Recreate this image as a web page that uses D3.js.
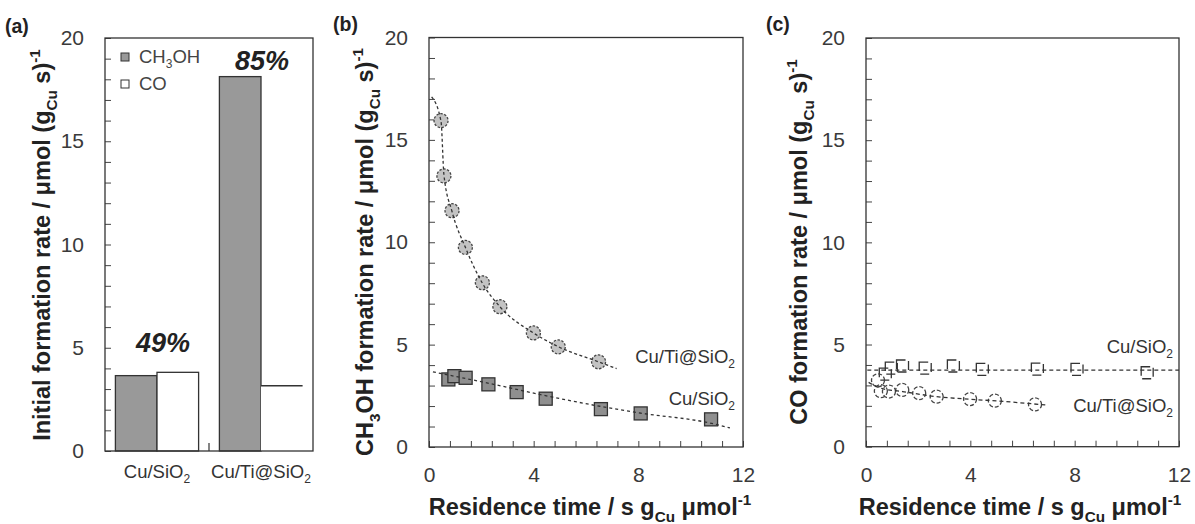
<!DOCTYPE html>
<html><head><meta charset="utf-8">
<script src="https://cdn.jsdelivr.net/npm/d3@7"></script>
<style>
body{margin:0;background:#fff}
svg{display:block}
text{font-family:"Liberation Sans",Arial,Helvetica,sans-serif}
</style>
</head><body>
<svg id="chart" width="1195" height="524"></svg>
<script>
// ---------- DATA ----------
const barCategories = ["Cu/SiO_{2}", "Cu/Ti@SiO_{2}"];
const barSeries = ["CH_{3}OH", "CO"];
const barMeOH = [3.65, 18.13];
const barCO = [3.81, 3.16];
const selectivityLabels = ["49%", "85%"];

const yTickLabels = [0, 5, 10, 15, 20];
const xTickLabels = [0, 4, 8, 12];

// (b) CH3OH formation rate vs residence time
const tiTime = [0.46, 0.57, 0.88, 1.39, 2.04, 2.71, 3.99, 4.94, 6.48];
const tiMeOH = [15.94, 13.24, 11.54, 9.75, 8.02, 6.85, 5.57, 4.89, 4.16];
const siTime = [0.74, 0.97, 1.40, 2.27, 3.35, 4.46, 6.57, 8.09, 10.78];
const siMeOH = [3.30, 3.46, 3.38, 3.06, 2.68, 2.36, 1.85, 1.64, 1.35];
// trend curves
const tiMeOHFitTime = [0.10, 0.46, 0.57, 0.88, 1.39, 2.04, 2.71, 3.99, 4.94, 6.48, 7.17];
const tiMeOHFitRate = [17.1, 15.9, 13.3, 11.5, 9.75, 8.0, 6.85, 5.57, 4.9, 4.16, 3.83];
const siMeOHFitTime = [0.15, 1.0, 2.33, 4.37, 6.53, 8.06, 10.74, 11.5];
const siMeOHFitRate = [3.67, 3.45, 3.10, 2.53, 1.99, 1.66, 1.17, 0.93];

// (c) CO formation rate vs residence time
const siCO = [3.55, 3.85, 3.95, 3.85, 3.95, 3.78, 3.80, 3.78, 3.62];
const tiCO = [3.25, 2.72, 2.70, 2.78, 2.62, 2.45, 2.33, 2.25, 2.07];
const siCOFitTime = [0.05, 12.0];
const siCOFitRate = [3.75, 3.75];
const tiCOFitTime = [0.10, 0.6, 1.4, 2.7, 4.0, 5.0, 6.9];
const tiCOFitRate = [3.15, 2.85, 2.7, 2.45, 2.32, 2.24, 2.04];

// ---------- HELPERS ----------
const svg = d3.select("#chart");
const INK = "#333";

function rich(textSel, str, fs) {
  const re = /([_^])\{([^}]*)\}|([^_^]+)/g;
  let m, cur = 0;
  while ((m = re.exec(str))) {
    let target, content, size = null;
    if (m[3] !== undefined) { target = 0; content = m[3]; }
    else { target = m[1] === "_" ? fs * 0.28 : -fs * 0.42; content = m[2]; size = fs * 0.65; }
    const t = textSel.append("tspan").text(content);
    if (size) t.attr("font-size", size);
    if (target !== cur) t.attr("dy", target - cur);
    cur = target;
  }
  return textSel;
}

function yAxis(g, y, x0) {
  g.attr("transform", `translate(${x0},0)`)
    .call(d3.axisLeft(y).tickValues(d3.range(0, 21)).tickSize(-6).tickPadding(21)
      .tickFormat(d => yTickLabels.includes(d) ? d : ""));
  g.select(".domain").remove();
  g.attr("font-size", 21).attr("font-family", '"Liberation Sans",Arial,sans-serif');
  g.selectAll("line").attr("stroke", "#444").attr("stroke-width", 1);
  g.selectAll("text").attr("fill", "#3a3a3a");
}

function xAxis(g, x, y0) {
  const vals = d3.range(0, 16).map(k => +(k * 0.8).toFixed(1));
  g.attr("transform", `translate(0,${y0})`)
    .call(d3.axisBottom(x).tickValues(vals).tickSize(-6).tickPadding(20)
      .tickFormat(d => xTickLabels.includes(d) ? d : ""));
  g.select(".domain").remove();
  g.attr("font-size", 21).attr("font-family", '"Liberation Sans",Arial,sans-serif');
  g.selectAll("line").attr("stroke", "#444").attr("stroke-width", 1);
  g.selectAll("text").attr("fill", "#3a3a3a");
}

function frame(l, t, r, b) {
  svg.append("rect").attr("x", l).attr("y", t).attr("width", r - l).attr("height", b - t)
    .attr("fill", "none").attr("stroke", INK).attr("stroke-width", 1.3);
}

function yTitle(x, yc, str) {
  rich(svg.append("text").attr("transform", `translate(${x},${yc}) rotate(-90)`)
    .attr("text-anchor", "middle").attr("font-size", 23.5).attr("font-weight", "bold")
    .attr("fill", "#222"), str, 23.5);
}
function xTitle(xc, y, str) {
  rich(svg.append("text").attr("x", xc).attr("y", y)
    .attr("text-anchor", "middle").attr("font-size", 23.5).attr("font-weight", "bold")
    .attr("fill", "#222"), str, 23.5);
}
function panelLabel(x, y, s) {
  svg.append("text").attr("x", x).attr("y", y).attr("font-size", 19.5).attr("font-weight", "bold")
    .attr("fill", "#222").text(s);
}

// ---------- PANEL (a) ----------
const A = {l: 105, r: 313, t: 38, b: 451};
const xA = d3.scaleBand().domain(barCategories).range([A.l, A.r]).paddingInner(0.2).paddingOuter(0.1);
const xAin = d3.scaleBand().domain(barSeries).range([0, xA.bandwidth()]);
const yA = d3.scaleLinear().domain([0, 20]).range([A.b, A.t]);

const barData = barCategories.flatMap((c, i) => [
  {cat: c, s: barSeries[0], v: barMeOH[i], i},
  {cat: c, s: barSeries[1], v: barCO[i], i}
]);
svg.append("g").selectAll("rect").data(barData).join("rect")
  .attr("x", d => xA(d.cat) + xAin(d.s))
  .attr("y", d => yA(d.v))
  .attr("width", xAin.bandwidth())
  .attr("height", d => yA(0) - yA(d.v))
  .attr("fill", d => d.s === barSeries[0] ? "#999" : "#fff")
  .attr("stroke", d => (d.s === barSeries[1] && d.i === 1) ? "none" : INK)
  .attr("stroke-width", 1.3);
// top edge only for the second CO bar
barData.filter(d => d.s === barSeries[1] && d.i === 1).forEach(d => {
  svg.append("line").attr("x1", xA(d.cat) + xAin(d.s)).attr("x2", xA(d.cat) + xAin(d.s) + xAin.bandwidth())
    .attr("y1", yA(d.v)).attr("y2", yA(d.v)).attr("stroke", INK).attr("stroke-width", 1.3);
});

yAxis(svg.append("g"), yA, A.l);
// category separator tick
svg.append("line").attr("x1", xA(barCategories[1]) - xA.step() * 0.1).attr("x2", xA(barCategories[1]) - xA.step() * 0.1)
  .attr("y1", A.b).attr("y2", A.b - 8).attr("stroke", INK).attr("stroke-width", 1.2);

// category labels
barCategories.forEach(c => {
  rich(svg.append("text").attr("x", xA(c) + xA.bandwidth() / 2).attr("y", 478)
    .attr("text-anchor", "middle").attr("font-size", 18.5).attr("fill", INK), c, 18.5);
});

// selectivity labels
const selLabelY = [4.8, 18.45];
const selLabelDX = [6, 1];
selectivityLabels.forEach((s, i) => {
  svg.append("text").attr("x", xA(barCategories[i]) + xA.bandwidth() / 2 + selLabelDX[i])
    .attr("y", yA(selLabelY[i])).attr("text-anchor", "middle")
    .attr("font-size", 27).attr("font-weight", "bold").attr("font-style", "italic")
    .attr("fill", "#222").text(s);
});

// legend
barSeries.forEach((s, i) => {
  const yy = 53 + i * 27;
  svg.append("rect").attr("x", 121).attr("y", yy).attr("width", 8).attr("height", 8)
    .attr("fill", i === 0 ? "#999" : "#fff").attr("stroke", INK).attr("stroke-width", 1);
  rich(svg.append("text").attr("x", 139).attr("y", yy + 10).attr("font-size", 18.5)
    .attr("fill", "#444"), s, 18.5);
});

frame(A.l, A.t, A.r, A.b);
yTitle(50, 245, "Initial formation rate / μmol (g_{Cu} s)^{-1}");
panelLabel(5, 33, "(a)");

// ---------- PANEL (b) ----------
const B = {l: 429, r: 743, t: 37.5, b: 447};
const xB = d3.scaleLinear().domain([0, 12]).range([B.l, B.r]);
const yB = d3.scaleLinear().domain([0, 20]).range([B.b, B.t]);
yAxis(svg.append("g"), yB, B.l);
xAxis(svg.append("g"), xB, B.b);

const lineB = d3.line().x(d => xB(d[0])).y(d => yB(d[1])).curve(d3.curveMonotoneX);

svg.append("g").selectAll("rect").data(d3.zip(siTime, siMeOH)).join("rect")
  .attr("x", d => xB(d[0]) - 6.5).attr("y", d => yB(d[1]) - 6.5)
  .attr("width", 13).attr("height", 13)
  .attr("fill", "#8f8f8f").attr("stroke", INK).attr("stroke-width", 1.3);
svg.append("g").selectAll("circle").data(d3.zip(tiTime, tiMeOH)).join("circle")
  .attr("cx", d => xB(d[0])).attr("cy", d => yB(d[1])).attr("r", 7)
  .attr("fill", "#c3c3c3").attr("stroke", "#444").attr("stroke-width", 1.3)
  .attr("stroke-dasharray", "2.5,1.5");

svg.append("path").datum(d3.zip(tiMeOHFitTime, tiMeOHFitRate)).attr("d", lineB)
  .attr("fill", "none").attr("stroke", INK).attr("stroke-width", 1.3).attr("stroke-dasharray", "3,2.5");
svg.append("path").datum(d3.zip(siMeOHFitTime, siMeOHFitRate)).attr("d", lineB)
  .attr("fill", "none").attr("stroke", INK).attr("stroke-width", 1.3).attr("stroke-dasharray", "3,3");

rich(svg.append("text").attr("x", 735).attr("y", 363).attr("text-anchor", "end")
  .attr("font-size", 18.5).attr("fill", INK), "Cu/Ti@SiO_{2}", 18.5);
rich(svg.append("text").attr("x", 735).attr("y", 405).attr("text-anchor", "end")
  .attr("font-size", 18.5).attr("fill", INK), "Cu/SiO_{2}", 18.5);

frame(B.l, B.t, B.r, B.b);
yTitle(373, 252, "CH_{3}OH formation rate / μmol (g_{Cu} s)^{-1}");
xTitle(590, 515, "Residence time / s g_{Cu} μmol^{-1}");
panelLabel(333, 31, "(b)");

// ---------- PANEL (c) ----------
const C = {l: 866, r: 1179, t: 38, b: 446.7};
const xC = d3.scaleLinear().domain([0, 12]).range([C.l, C.r]);
const yC = d3.scaleLinear().domain([0, 20]).range([C.b, C.t]);
yAxis(svg.append("g"), yC, C.l);
xAxis(svg.append("g"), xC, C.b);

const lineC = d3.line().x(d => xC(d[0])).y(d => yC(d[1])).curve(d3.curveMonotoneX);

svg.append("g").selectAll("rect").data(d3.zip(siTime, siCO)).join("rect")
  .attr("x", d => xC(d[0]) - 6).attr("y", d => yC(d[1]) - 6)
  .attr("width", 12).attr("height", 12)
  .attr("fill", "none").attr("stroke", INK).attr("stroke-width", 1.3)
  .attr("stroke-dasharray", "9,4");
svg.append("g").selectAll("circle").data(d3.zip(tiTime, tiCO)).join("circle")
  .attr("cx", d => xC(d[0])).attr("cy", d => yC(d[1])).attr("r", 6.5)
  .attr("fill", "none").attr("stroke", "#444").attr("stroke-width", 1.3)
  .attr("stroke-dasharray", "4,2");

svg.append("path").datum(d3.zip(siCOFitTime, siCOFitRate)).attr("d", lineC)
  .attr("fill", "none").attr("stroke", INK).attr("stroke-width", 1.3).attr("stroke-dasharray", "4,3");
svg.append("path").datum(d3.zip(tiCOFitTime, tiCOFitRate)).attr("d", lineC)
  .attr("fill", "none").attr("stroke", INK).attr("stroke-width", 1.3).attr("stroke-dasharray", "4,3");

rich(svg.append("text").attr("x", 1173).attr("y", 353).attr("text-anchor", "end")
  .attr("font-size", 18.5).attr("fill", INK), "Cu/SiO_{2}", 18.5);
rich(svg.append("text").attr("x", 1173).attr("y", 412).attr("text-anchor", "end")
  .attr("font-size", 18.5).attr("fill", INK), "Cu/Ti@SiO_{2}", 18.5);

frame(C.l, C.t, C.r, C.b);
yTitle(807, 242, "CO formation rate / μmol (g_{Cu} s)^{-1}");
xTitle(1020, 515, "Residence time / s g_{Cu} μmol^{-1}");
panelLabel(766, 31, "(c)");
</script>
</body></html>
